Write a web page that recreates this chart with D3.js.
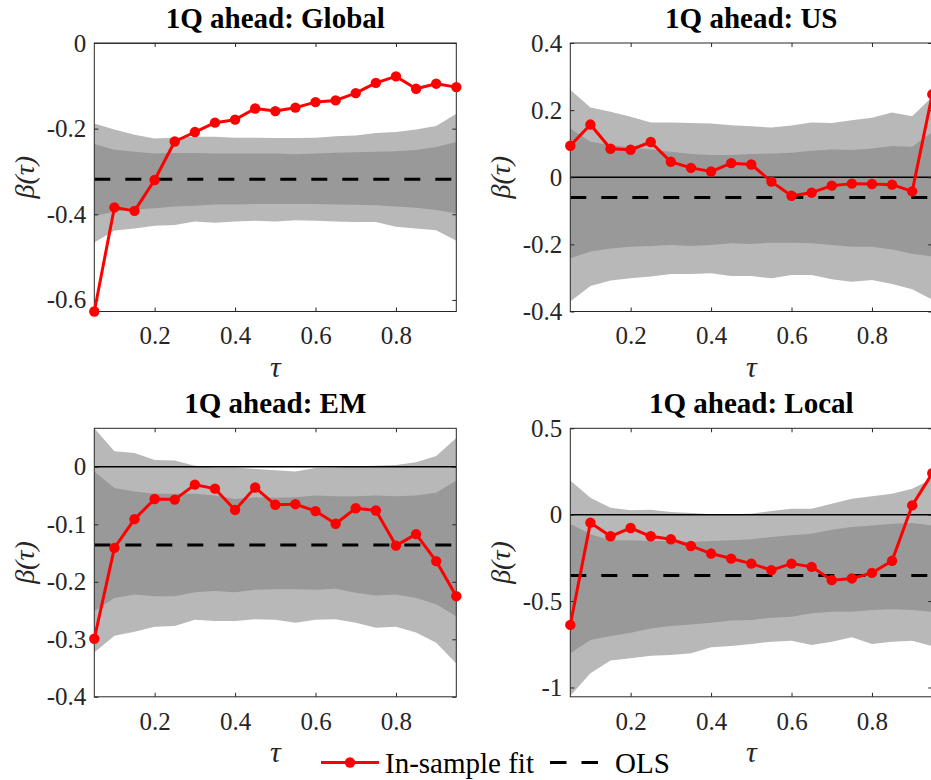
<!DOCTYPE html>
<html>
<head>
<meta charset="utf-8">
<script src="https://cdn.jsdelivr.net/npm/d3@7"></script>
<style>
  body { margin: 0; background: #fff; }
  svg { display: block; }
  svg text { font-family: "Liberation Serif", Tinos, "Times New Roman", serif !important; }
</style>
</head>
<body>
<svg id="chart" width="931" height="780"></svg>
<script>
// Quantile grid
const taus = [0.05, 0.10, 0.15, 0.20, 0.25, 0.30, 0.35, 0.40, 0.45, 0.50,
              0.55, 0.60, 0.65, 0.70, 0.75, 0.80, 0.85, 0.90, 0.95];
const xTicks = [0.2, 0.4, 0.6, 0.8];
const xTickLabels = ["0.2", "0.4", "0.6", "0.8"];

const panelTitles = ["1Q ahead: Global", "1Q ahead: US", "1Q ahead: EM", "1Q ahead: Local"];

// Global
const globalFit = [-0.627, -0.384, -0.392, -0.320, -0.230, -0.208, -0.186, -0.179, -0.153, -0.159,
                   -0.151, -0.138, -0.134, -0.117, -0.093, -0.078, -0.107, -0.095, -0.103];
const globalOLS = -0.318;
const globalOuterHi = [-0.188, -0.202, -0.214, -0.223, -0.221, -0.219, -0.219, -0.221, -0.221, -0.222,
                       -0.222, -0.221, -0.218, -0.216, -0.210, -0.208, -0.202, -0.194, -0.165];
const globalInnerHi = [-0.236, -0.249, -0.254, -0.258, -0.257, -0.257, -0.258, -0.258, -0.258, -0.258,
                       -0.260, -0.258, -0.256, -0.255, -0.254, -0.253, -0.250, -0.243, -0.231];
const globalInnerLo = [-0.404, -0.394, -0.389, -0.386, -0.382, -0.380, -0.377, -0.377, -0.376, -0.376,
                       -0.376, -0.376, -0.377, -0.378, -0.379, -0.382, -0.385, -0.390, -0.398];
const globalOuterLo = [-0.466, -0.438, -0.433, -0.427, -0.425, -0.417, -0.420, -0.417, -0.415, -0.417,
                       -0.414, -0.415, -0.417, -0.418, -0.418, -0.429, -0.433, -0.437, -0.462];
const globalYTicks = [0, -0.2, -0.4, -0.6];
const globalYTickLabels = ["0", "-0.2", "-0.4", "-0.6"];
const globalYDomain = [-0.627, 0];

// US
const usFit = [0.094, 0.157, 0.085, 0.082, 0.105, 0.046, 0.028, 0.017, 0.042, 0.038,
               -0.013, -0.055, -0.046, -0.025, -0.019, -0.020, -0.022, -0.042, 0.247];
const usOLS = -0.060;
const usOuterHi = [0.261, 0.208, 0.195, 0.180, 0.163, 0.163, 0.162, 0.160, 0.155, 0.152,
                   0.148, 0.154, 0.163, 0.162, 0.170, 0.177, 0.193, 0.182, 0.240];
const usInnerHi = [0.145, 0.106, 0.096, 0.089, 0.083, 0.076, 0.069, 0.066, 0.066, 0.069,
                   0.071, 0.073, 0.079, 0.083, 0.081, 0.086, 0.093, 0.091, 0.135];
const usInnerLo = [-0.241, -0.221, -0.212, -0.207, -0.205, -0.202, -0.205, -0.202, -0.197, -0.199,
                   -0.195, -0.195, -0.197, -0.202, -0.207, -0.207, -0.215, -0.228, -0.236];
const usOuterLo = [-0.370, -0.324, -0.308, -0.301, -0.296, -0.288, -0.288, -0.286, -0.294, -0.294,
                   -0.301, -0.291, -0.291, -0.304, -0.311, -0.306, -0.318, -0.334, -0.365];
const usYTicks = [0.4, 0.2, 0, -0.2, -0.4];
const usYTickLabels = ["0.4", "0.2", "0", "-0.2", "-0.4"];
const usYDomain = [-0.4, 0.4];

// EM
const emFit = [-0.299, -0.141, -0.091, -0.056, -0.057, -0.031, -0.038, -0.075, -0.036, -0.066,
               -0.065, -0.077, -0.099, -0.072, -0.076, -0.137, -0.117, -0.164, -0.225];
const emOLS = -0.136;
const emOuterHi = [0.067, 0.027, 0.024, 0.012, 0.011, 0.002, -0.001, -0.001, -0.004, -0.006,
                   -0.008, -0.002, -0.001, 0.001, 0.002, 0.003, 0.008, 0.019, 0.050];
const emInnerHi = [-0.008, -0.037, -0.043, -0.047, -0.047, -0.047, -0.050, -0.056, -0.053, -0.054,
                   -0.053, -0.050, -0.051, -0.051, -0.050, -0.051, -0.050, -0.045, -0.024];
const emInnerLo = [-0.251, -0.228, -0.222, -0.225, -0.225, -0.218, -0.216, -0.218, -0.214, -0.213,
                   -0.213, -0.214, -0.212, -0.219, -0.224, -0.222, -0.228, -0.239, -0.260];
const emOuterLo = [-0.323, -0.294, -0.287, -0.278, -0.277, -0.266, -0.268, -0.268, -0.265, -0.266,
                   -0.271, -0.266, -0.265, -0.271, -0.280, -0.278, -0.288, -0.306, -0.342];
const emYTicks = [0, -0.1, -0.2, -0.3, -0.4];
const emYTickLabels = ["0", "-0.1", "-0.2", "-0.3", "-0.4"];
const emYDomain = [-0.4, 0.067];

// Local
const localFit = [-0.638, -0.046, -0.125, -0.077, -0.125, -0.142, -0.181, -0.225, -0.254, -0.283,
                  -0.321, -0.283, -0.302, -0.379, -0.369, -0.337, -0.267, 0.054, 0.240];
const localOLS = -0.352;
const localOuterHi = [0.198, 0.098, 0.040, 0.025, 0.029, 0.015, 0.010, 0.002, 0.002, 0.006,
                      0.021, 0.035, 0.035, 0.063, 0.092, 0.106, 0.121, 0.150, 0.208];
const localInnerHi = [-0.052, -0.113, -0.148, -0.148, -0.152, -0.152, -0.158, -0.152, -0.148, -0.142,
                      -0.129, -0.119, -0.110, -0.087, -0.071, -0.062, -0.052, -0.048, -0.062];
const localInnerLo = [-0.802, -0.725, -0.702, -0.683, -0.658, -0.644, -0.635, -0.625, -0.613, -0.610,
                      -0.596, -0.590, -0.571, -0.562, -0.562, -0.552, -0.548, -0.552, -0.562];
const localOuterLo = [-1.048, -0.917, -0.844, -0.831, -0.817, -0.812, -0.802, -0.767, -0.760, -0.748,
                      -0.735, -0.729, -0.754, -0.735, -0.710, -0.748, -0.735, -0.729, -0.760];
const localYTicks = [0.5, 0, -0.5, -1];
const localYTickLabels = ["0.5", "0", "-0.5", "-1"];
const localYDomain = [-1.054, 0.5];

const legendLabels = ["In-sample fit", "OLS"];

// ---- layout & style ----
const svg = d3.select("#chart");
const SERIF = "Liberation Serif";
const PW = 362, PH = 268.5;
const origins = [[94.3, 43], [570.3, 43], [94.3, 428.3], [570.3, 428.3]];
const RED = "#ff0000", LIGHT = "#b8b8b8", DARK = "#999999", FRAME = "#262626";

const panels = [
  { fit: globalFit, ols: globalOLS, oHi: globalOuterHi, iHi: globalInnerHi, iLo: globalInnerLo, oLo: globalOuterLo,
    yTicks: globalYTicks, yLabels: globalYTickLabels, yDomain: globalYDomain },
  { fit: usFit, ols: usOLS, oHi: usOuterHi, iHi: usInnerHi, iLo: usInnerLo, oLo: usOuterLo,
    yTicks: usYTicks, yLabels: usYTickLabels, yDomain: usYDomain },
  { fit: emFit, ols: emOLS, oHi: emOuterHi, iHi: emInnerHi, iLo: emInnerLo, oLo: emOuterLo,
    yTicks: emYTicks, yLabels: emYTickLabels, yDomain: emYDomain },
  { fit: localFit, ols: localOLS, oHi: localOuterHi, iHi: localInnerHi, iLo: localInnerLo, oLo: localOuterLo,
    yTicks: localYTicks, yLabels: localYTickLabels, yDomain: localYDomain }
];

panels.forEach((p, i) => {
  const [ox, oy] = origins[i];
  const g = svg.append("g").attr("transform", `translate(${ox},${oy})`);
  const x = d3.scaleLinear().domain([0.05, 0.95]).range([0, PW]);
  const y = d3.scaleLinear().domain(p.yDomain).range([PH, 0]);

  const clipId = "clip" + i;
  g.append("clipPath").attr("id", clipId)
    .append("rect").attr("width", PW).attr("height", PH);
  const plot = g.append("g").attr("clip-path", `url(#${clipId})`);

  const band = (hi, lo) => d3.area()
    .x((d, k) => x(taus[k]))
    .y0((d, k) => y(lo[k]))
    .y1((d, k) => y(hi[k]))(taus);

  plot.append("path").attr("d", band(p.oHi, p.oLo)).attr("fill", LIGHT);
  plot.append("path").attr("d", band(p.iHi, p.iLo)).attr("fill", DARK);

  // zero reference
  plot.append("line")
    .attr("x1", 0).attr("x2", PW).attr("y1", y(0)).attr("y2", y(0))
    .attr("stroke", "#000").attr("stroke-width", 1.6);

  // OLS estimate
  plot.append("line")
    .attr("x1", 0).attr("x2", PW).attr("y1", y(p.ols)).attr("y2", y(p.ols))
    .attr("stroke", "#000").attr("stroke-width", 3).attr("stroke-dasharray", "16,15");

  // frame and inward ticks
  g.append("rect").attr("width", PW).attr("height", PH)
    .attr("fill", "none").attr("stroke", FRAME).attr("stroke-width", 1);

  const axB = d3.axisBottom(x).tickValues(xTicks).tickSizeInner(-4).tickSizeOuter(0)
    .tickFormat((d, k) => xTickLabels[k]).tickPadding(15);
  const axT = d3.axisTop(x).tickValues(xTicks).tickSizeInner(-4).tickSizeOuter(0).tickFormat("");
  const axL = d3.axisLeft(y).tickValues(p.yTicks).tickSizeInner(-4).tickSizeOuter(0)
    .tickFormat((d, k) => p.yLabels[k]).tickPadding(8);
  const axR = d3.axisRight(y).tickValues(p.yTicks).tickSizeInner(-4).tickSizeOuter(0).tickFormat("");

  const styleAxis = sel => {
    sel.attr("font-family", SERIF).attr("font-size", 25);
    sel.select(".domain").remove();
    sel.selectAll(".tick line").attr("stroke", FRAME);
    sel.selectAll(".tick text").attr("fill", "#262626").attr("font-family", SERIF);
  };
  g.append("g").attr("transform", `translate(0,${PH})`).call(axB).call(styleAxis)
    .selectAll(".tick text").attr("dy", "0.71em");
  g.append("g").call(axT).call(styleAxis);
  g.append("g").call(axL).call(styleAxis);
  g.append("g").attr("transform", `translate(${PW},0)`).call(axR).call(styleAxis);

  // in-sample fit
  const line = d3.line().x((d, k) => x(taus[k])).y(d => y(d));
  g.append("path").attr("d", line(p.fit))
    .attr("fill", "none").attr("stroke", RED).attr("stroke-width", 3).attr("stroke-linejoin", "round");
  g.selectAll("circle.pt").data(p.fit).enter().append("circle")
    .attr("class", "pt")
    .attr("cx", (d, k) => x(taus[k])).attr("cy", d => y(d)).attr("r", 5.2).attr("fill", RED);

  // titles and axis labels
  g.append("text").attr("x", PW / 2).attr("y", -15).attr("text-anchor", "middle")
    .attr("font-family", SERIF).attr("font-size", 29).attr("font-weight", "bold").attr("fill", "#000")
    .text(panelTitles[i]);
  g.append("text").attr("x", PW / 2).attr("y", PH + 65).attr("text-anchor", "middle")
    .attr("font-family", SERIF).attr("font-size", 30).attr("font-style", "italic").attr("fill", "#262626")
    .text("τ");
  g.append("text")
    .attr("transform", `translate(-60,${PH / 2}) rotate(-90)`)
    .attr("text-anchor", "middle")
    .attr("font-family", SERIF).attr("font-size", 28).attr("font-style", "italic").attr("fill", "#262626")
    .text("β(τ)");
});

// legend
const lg = svg.append("g").attr("transform", "translate(0,762.5)");
lg.append("line").attr("x1", 321).attr("x2", 379).attr("y1", 0).attr("y2", 0)
  .attr("stroke", RED).attr("stroke-width", 3);
lg.append("circle").attr("cx", 350).attr("cy", 0).attr("r", 5.2).attr("fill", RED);
lg.append("text").attr("x", 385).attr("y", 10)
  .attr("font-family", SERIF).attr("font-size", 29).attr("fill", "#000")
  .text(legendLabels[0]);
lg.append("line").attr("x1", 550).attr("x2", 598).attr("y1", 0).attr("y2", 0)
  .attr("stroke", "#000").attr("stroke-width", 3).attr("stroke-dasharray", "16.5,15");
lg.append("text").attr("x", 615).attr("y", 10)
  .attr("font-family", SERIF).attr("font-size", 29).attr("fill", "#000")
  .text(legendLabels[1]);
</script>
</body>
</html>
